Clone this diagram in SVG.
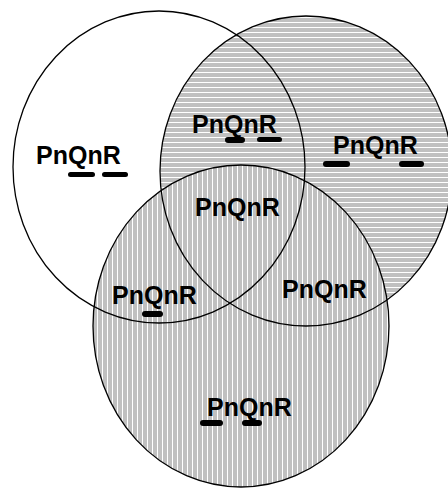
<svg xmlns="http://www.w3.org/2000/svg" width="448" height="489" viewBox="0 0 448 489">
<defs>
<pattern id="hh" patternUnits="userSpaceOnUse" width="10" height="5">
<rect width="10" height="5" fill="#c0c0c0"/>
<rect y="2" width="10" height="1" fill="#ffffff"/>
</pattern>
<pattern id="vh" patternUnits="userSpaceOnUse" width="5" height="10">
<rect width="5" height="10" fill="#c0c0c0"/>
<rect x="2" width="1" height="10" fill="#ffffff"/>
</pattern>
<style>
.lbl{font-family:"Liberation Sans",Arial,sans-serif;font-weight:bold;font-size:25px;fill:#000}
.bar{fill:#000}
.ol{fill:none;stroke:#000;stroke-width:1.3}
</style>
</defs>
<rect width="448" height="489" fill="#ffffff"/>
<g id="circle-P">
<ellipse cx="159" cy="167" rx="146" ry="156" fill="#ffffff"/>
</g>
<g id="circle-Q">
<ellipse cx="306" cy="171" rx="146" ry="155" fill="url(#hh)"/>
</g>
<g id="circle-R">
<ellipse cx="241" cy="326" rx="148" ry="161" fill="url(#vh)"/>
</g>
<g id="outlines">
<ellipse class="ol" cx="159" cy="167" rx="146" ry="156"/>
<ellipse class="ol" cx="306" cy="171" rx="146" ry="155"/>
<ellipse class="ol" cx="241" cy="326" rx="148" ry="161"/>
</g>
<g id="label-P-only">
<text class="lbl" x="36" y="164">PnQnR</text>
<rect class="bar" x="68" y="172" width="27" height="5" rx="2.5"/>
<rect class="bar" x="102" y="172" width="26" height="5" rx="2.5"/>
</g>
<g id="label-PQ">
<text class="lbl" x="192" y="133">PnQnR</text>
<rect class="bar" x="225" y="137" width="20" height="6" rx="3"/>
<rect class="bar" x="257" y="137" width="25" height="5" rx="2.5"/>
</g>
<g id="label-Q-only">
<text class="lbl" x="333" y="154">PnQnR</text>
<rect class="bar" x="323" y="161" width="27" height="6" rx="3"/>
<rect class="bar" x="399" y="161" width="25" height="6" rx="3"/>
</g>
<g id="label-PQR">
<text class="lbl" x="195" y="216">PnQnR</text>
</g>
<g id="label-PR">
<text class="lbl" x="112" y="304">PnQnR</text>
<rect class="bar" x="142" y="311" width="21" height="6" rx="3"/>
</g>
<g id="label-QR">
<text class="lbl" x="282" y="298">PnQnR</text>
</g>
<g id="label-R-only">
<text class="lbl" x="207" y="416">PnQnR</text>
<rect class="bar" x="200" y="420" width="23" height="6" rx="3"/>
<rect class="bar" x="242" y="420" width="20" height="6" rx="3"/>
</g>
</svg>
